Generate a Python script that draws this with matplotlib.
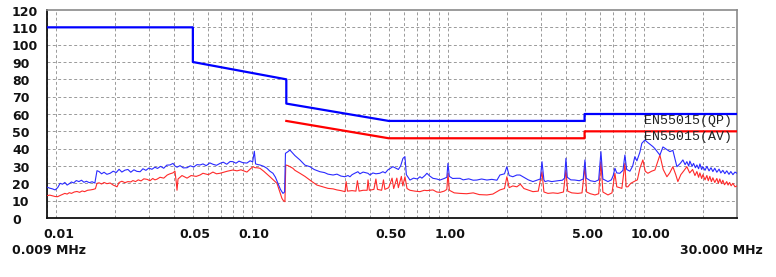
import matplotlib
matplotlib.use("Agg")
import matplotlib.pyplot as plt
from matplotlib import transforms

# ---------------- data ----------------
qp_freq = [0.009, 0.05, 0.05, 0.15, 0.15, 0.5, 5.0, 5.0, 30.0]
qp_db = [110, 110, 90, 80, 66, 56, 56, 60, 60]
av_freq = [0.15, 0.5, 5.0, 5.0, 30.0]
av_db = [56, 46, 46, 50, 50]

peak_freq = [
    0.0090, 0.0093, 0.0096, 0.0099, 0.0102, 0.0105, 0.0108, 0.0111, 0.0114, 0.0117,
    0.0120, 0.0123, 0.0127, 0.0131, 0.0135, 0.0139, 0.0143, 0.0148, 0.0153, 0.0158,
    0.0162, 0.0166, 0.0171, 0.0176, 0.0182, 0.0189, 0.0196, 0.0203, 0.0210, 0.0217,
    0.0225, 0.0233, 0.0241, 0.0250, 0.0259, 0.0269, 0.0278, 0.0288, 0.0298, 0.0309,
    0.0320, 0.0330, 0.0342, 0.0355, 0.0368, 0.0382, 0.0396, 0.0405, 0.0415, 0.0430,
    0.0447, 0.0467, 0.0485, 0.0505, 0.0525, 0.0544, 0.0563, 0.0585, 0.0610, 0.0633,
    0.0660, 0.0688, 0.0715, 0.0745, 0.0775, 0.0801, 0.0830, 0.0860, 0.0900, 0.0944,
    0.0980, 0.1010, 0.1030, 0.1045, 0.1075, 0.1100, 0.1150, 0.1194, 0.1237, 0.1282,
    0.1320, 0.1360, 0.1400, 0.1442, 0.1470, 0.1485, 0.1530, 0.1565, 0.1600, 0.1660,
    0.1760, 0.1867, 0.1980, 0.2080, 0.2228, 0.2350, 0.2448, 0.2600, 0.2720, 0.2850,
    0.2988, 0.3095, 0.3170, 0.3250, 0.3350, 0.3480, 0.3564, 0.3700, 0.3916, 0.4010,
    0.4150, 0.4300, 0.4500, 0.4670, 0.4800, 0.4955, 0.5254, 0.5380, 0.5600, 0.5750,
    0.5910, 0.6050, 0.6150, 0.6416, 0.6700, 0.7000, 0.7216, 0.7387, 0.7650, 0.7835,
    0.8100, 0.8407, 0.8800, 0.9130, 0.9600, 0.9900, 1.0030, 1.0200, 1.0600, 1.1140,
    1.1550, 1.2000, 1.2800, 1.3500, 1.4100, 1.4900, 1.5860, 1.6800, 1.7840, 1.8480,
    1.9500, 2.0050, 2.0600, 2.1500, 2.2550, 2.3380, 2.4500, 2.5800, 2.7240, 2.8500,
    2.9700, 3.0300, 3.1000, 3.1400, 3.2500, 3.4000, 3.6500, 3.8500, 3.9500, 4.0150,
    4.0800, 4.2500, 4.4600, 4.7000, 4.9200, 5.0200, 5.1000, 5.3500, 5.6500, 5.9000,
    6.0600, 6.2000, 6.5800, 6.8500, 7.0000, 7.1400, 7.3000, 7.5700, 7.8500, 8.0300,
    8.2000, 8.5200, 8.8000, 9.0300, 9.2500, 9.5800, 9.8000, 10.160, 10.520, 11.160,
    11.430, 12.120, 12.560, 13.160, 13.630, 14.120, 14.800, 15.400, 15.880, 16.300,
    16.640, 17.000, 17.240, 17.700, 18.000, 18.400, 18.720, 19.100, 19.400, 19.800,
    20.090, 20.600, 21.050, 21.600, 22.100, 22.590, 23.100, 23.670, 24.300, 24.800,
    25.400, 26.000, 26.600, 27.300, 27.900, 28.600, 29.300, 30.000,
]
peak_db = [
    17.8, 17.2, 16.8, 16.2, 17.5, 20.0, 19.5, 20.5, 19.0, 19.8,
    20.8, 20.2, 21.6, 21.0, 21.8, 20.6, 21.2, 20.4, 20.9, 20.2,
    27.3, 26.8, 25.5, 26.4, 25.2, 25.8, 27.0, 26.2, 28.1, 26.5,
    27.6, 28.0, 26.4, 27.8, 26.9, 26.7, 28.4, 27.5, 28.8, 28.1,
    29.3, 28.6, 29.8, 28.7, 30.5, 30.6, 31.5, 30.0, 29.3, 30.2,
    28.9, 29.0, 30.1, 29.4, 30.8, 30.6, 31.2, 30.2, 31.8, 31.0,
    30.4, 31.5, 32.2, 31.0, 32.6, 32.5, 31.6, 32.8, 31.9, 31.7,
    33.0, 32.4, 38.5, 31.2, 30.8, 30.6, 29.8, 28.7, 27.0, 25.8,
    23.5, 20.0, 16.5, 14.2, 15.0, 37.3, 38.3, 39.2, 38.0, 36.0,
    33.5, 30.5, 29.6, 28.0, 26.7, 26.2, 25.3, 24.8, 25.3, 24.2,
    23.8, 24.5, 23.8, 25.0, 25.8, 26.7, 25.5, 26.5, 25.8, 24.8,
    26.0, 25.5, 25.8, 26.7, 26.0, 27.8, 29.6, 29.0, 28.0, 30.0,
    34.4, 35.4, 25.0, 21.9, 23.0, 22.5, 23.8, 23.0, 24.5, 25.8,
    24.2, 22.9, 22.5, 21.9, 22.8, 23.5, 31.5, 24.0, 22.8, 22.9,
    22.9, 22.0, 22.6, 21.8, 21.9, 22.5, 21.9, 22.3, 21.8, 24.8,
    25.5, 29.6, 24.5, 23.8, 24.8, 24.8, 23.5, 22.0, 21.0, 21.8,
    22.5, 32.5, 22.0, 21.0, 21.5, 21.0, 21.5, 21.8, 23.0, 34.4,
    23.5, 22.0, 21.9, 21.5, 22.5, 33.5, 23.0, 21.5, 21.0, 22.0,
    38.3, 22.5, 21.0, 22.0, 24.5, 28.7, 26.0, 25.8, 27.5, 36.3,
    28.0, 27.0, 30.0, 35.4, 33.0, 38.0, 43.1, 45.0, 43.5, 41.2,
    40.0, 36.3, 41.0, 39.5, 38.3, 39.0, 29.6, 31.5, 33.5, 30.8,
    32.5, 30.0, 32.8, 29.8, 31.5, 29.0, 30.6, 28.4, 31.2, 28.0,
    29.6, 27.5, 29.8, 27.2, 29.0, 26.8, 28.7, 26.4, 28.2, 26.0,
    27.5, 25.6, 27.2, 25.2, 26.8, 25.0, 26.5, 25.8,
]

avg_freq = [
    0.0090, 0.0093, 0.0096, 0.0099, 0.0102, 0.0105, 0.0108, 0.0111, 0.0114, 0.0117,
    0.0120, 0.0124, 0.0128, 0.0132, 0.0136, 0.0140, 0.0145, 0.0150, 0.0155, 0.0159,
    0.0162, 0.0166, 0.0171, 0.0176, 0.0182, 0.0189, 0.0196, 0.0205, 0.0210, 0.0217,
    0.0225, 0.0233, 0.0241, 0.0247, 0.0255, 0.0263, 0.0272, 0.0281, 0.0292, 0.0302,
    0.0312, 0.0320, 0.0328, 0.0340, 0.0355, 0.0370, 0.0382, 0.0395, 0.0405, 0.0412,
    0.0415, 0.0420, 0.0440, 0.0467, 0.0490, 0.0520, 0.0544, 0.0563, 0.0600, 0.0633,
    0.0660, 0.0688, 0.0720, 0.0750, 0.0801, 0.0840, 0.0880, 0.0944, 0.0980, 0.1013,
    0.1040, 0.1062, 0.1100, 0.1150, 0.1237, 0.1300, 0.1344, 0.1380, 0.1425, 0.1450,
    0.1476, 0.1490, 0.1530, 0.1620, 0.1660, 0.1760, 0.1867, 0.2028, 0.2150, 0.2300,
    0.2448, 0.2600, 0.2720, 0.2850, 0.2990, 0.3030, 0.3080, 0.3250, 0.3400, 0.3460,
    0.3530, 0.3700, 0.3880, 0.3920, 0.3980, 0.4200, 0.4300, 0.4380, 0.4600, 0.4700,
    0.4780, 0.5000, 0.5200, 0.5300, 0.5500, 0.5600, 0.5800, 0.5900, 0.6050, 0.6200,
    0.6416, 0.6800, 0.7216, 0.7600, 0.7835, 0.8407, 0.8800, 0.9130, 0.9600, 0.9900,
    1.0030, 1.0200, 1.0800, 1.1550, 1.2500, 1.3500, 1.4500, 1.5860, 1.7000, 1.8480,
    1.9500, 2.0050, 2.0600, 2.1500, 2.2550, 2.3500, 2.4500, 2.6000, 2.7240, 2.9000,
    3.0300, 3.1000, 3.2500, 3.4500, 3.6500, 3.9000, 4.0150, 4.1000, 4.3000, 4.6200,
    4.8500, 5.0200, 5.1200, 5.3500, 5.6500, 5.9000, 6.0600, 6.2000, 6.5800, 6.9000,
    7.1400, 7.3000, 7.7500, 8.0300, 8.1500, 8.3200, 8.6000, 9.0300, 9.3000, 9.5800,
    9.9200, 10.200, 10.520, 11.000, 11.430, 12.120, 12.600, 13.160, 13.600, 14.120,
    14.600, 14.970, 15.500, 16.000, 16.640, 17.200, 17.800, 18.300, 18.720, 19.100,
    19.400, 19.800, 20.090, 20.600, 21.050, 21.400, 21.800, 22.200, 22.590, 23.100,
    23.670, 24.100, 24.500, 25.000, 25.400, 25.900, 26.600, 27.000, 27.500, 28.000,
    28.600, 29.300, 30.000,
]
avg_db = [
    12.9, 13.2, 12.8, 12.4, 12.3, 13.0, 13.6, 14.2, 13.8, 14.6,
    14.2, 15.0, 15.3, 14.8, 15.6, 15.2, 16.0, 16.2, 16.5, 16.9,
    20.0, 20.3, 19.6, 20.5, 19.8, 20.2, 19.0, 18.0, 20.5, 21.2,
    20.4, 21.0, 20.8, 21.6, 21.0, 22.0, 21.4, 22.6, 22.3, 21.5,
    22.8, 22.0, 22.4, 23.5, 23.0, 24.8, 25.5, 26.0, 27.0, 20.0,
    16.0, 22.5, 24.5, 23.0, 24.5, 24.0, 24.8, 25.8, 25.0, 26.5,
    25.5, 25.8, 26.4, 27.0, 27.7, 27.2, 27.8, 26.5, 28.2, 29.6,
    29.0, 29.0, 28.7, 27.0, 23.8, 21.5, 20.0, 16.0, 11.3, 10.0,
    9.4, 30.6, 30.2, 28.7, 27.5, 25.8, 24.0, 21.0, 19.0, 18.0,
    17.1, 16.8, 16.2, 15.8, 15.2, 21.0, 15.5, 15.8, 15.5, 21.5,
    15.5, 16.0, 16.0, 22.0, 16.0, 16.5, 22.5, 16.5, 16.0, 22.0,
    16.5, 17.5, 23.0, 17.0, 23.0, 17.5, 24.0, 18.5, 23.8, 17.0,
    16.0, 15.5, 15.2, 16.0, 15.8, 16.2, 15.0, 14.8, 15.5, 16.5,
    25.8, 16.0, 14.5, 14.2, 14.0, 14.5, 13.5, 13.3, 13.8, 16.2,
    17.0, 23.8, 17.5, 18.5, 18.0, 19.5, 17.0, 16.0, 15.2, 15.5,
    26.7, 15.0, 14.2, 14.5, 14.2, 15.0, 27.7, 15.5, 14.5, 14.2,
    14.5, 29.6, 15.0, 14.0, 13.3, 14.0, 32.5, 15.0, 13.3, 14.5,
    25.8, 18.0, 17.1, 31.5, 18.0, 18.0, 20.0, 21.3, 22.0, 28.7,
    33.5, 27.0, 25.8, 27.0, 27.7, 36.3, 28.0, 23.8, 26.0, 29.6,
    25.0, 21.0, 25.0, 27.0, 29.6, 26.0, 28.0, 24.5, 26.8, 23.5,
    26.0, 22.8, 25.0, 22.0, 24.5, 21.5, 24.0, 21.0, 23.2, 20.5,
    22.8, 20.0, 22.5, 19.8, 21.8, 19.2, 21.0, 19.0, 20.5, 18.6,
    20.0, 18.0, 18.5,
]

y_ticks = [0, 10, 20, 30, 40, 50, 60, 70, 80, 90, 100, 110, 120]
x_tick_freqs = [0.01, 0.05, 0.10, 0.50, 1.00, 5.00, 10.00]
x_tick_labels = ["0.01", "0.05", "0.10", "0.50", "1.00", "5.00", "10.00"]
f_start, f_stop = 0.009, 30.0
start_label = "0.009 MHz"
stop_label = "30.000 MHz"
qp_label = "EN55015(QP)"
av_label = "EN55015(AV)"

# ---------------- figure ----------------
W, H = 776, 277
fig = plt.figure(figsize=(W / 100, H / 100), dpi=100)
ax = fig.add_axes([47 / W, 1 - 218 / H, 690 / W, 208 / H])
ax.set_xscale("log")
ax.set_xlim(f_start, f_stop)
ax.set_ylim(0, 120)

# grid
grid_kw = dict(color="#9a9a9a", lw=0.7, ls=(0, (3, 2.5)))
for yv in y_ticks[1:-1]:
    ax.axhline(yv, **grid_kw, zorder=1)
dec = 0.001
while dec < 100:
    for m in range(1, 10):
        v = dec * m
        if f_start < v < f_stop:
            ax.axvline(v, **grid_kw, zorder=1)
    dec *= 10

# traces
ax.plot(avg_freq, avg_db, color="#ff2a2a", lw=0.8, zorder=3)
ax.plot(peak_freq, peak_db, color="#2a2aff", lw=0.8, zorder=3)
# limits
ax.plot(qp_freq, qp_db, color="#0000ff", lw=1.6, zorder=4)
ax.plot(av_freq, av_db, color="#ff0000", lw=1.6, zorder=4)

ax.set_xticks([])
ax.set_yticks([])
ax.minorticks_off()
for s in ["top", "right"]:
    ax.spines[s].set_color("#8a8a8a")
    ax.spines[s].set_linewidth(1.2)
for s in ["left", "bottom"]:
    ax.spines[s].set_color("#111111")
    ax.spines[s].set_linewidth(1.3)

font = dict(family="DejaVu Sans", fontweight="bold", fontsize=9, color="#111111")
ytr = transforms.blended_transform_factory(fig.transFigure, ax.transData)
ytr = transforms.offset_copy(ytr, fig=fig, x=0, y=-2, units="dots")
for yv in y_ticks:
    ax.text(12 / W, yv, str(yv), transform=ytr, ha="left", va="center", **font)

xtr = transforms.offset_copy(ax.get_xaxis_transform(), fig=fig, x=-13, y=-16, units="dots")
for fv, lab in zip(x_tick_freqs, x_tick_labels):
    ax.text(fv, 0, lab, transform=xtr, ha="left", va="center", **font)

fig.text(12 / W, 1 - 251 / H, start_label, ha="left", va="center", **font)
fig.text(763 / W, 1 - 251 / H, stop_label, ha="right", va="center", **font)

mono = dict(family="Liberation Mono", fontsize=9.5, color="#222222")
ax.text(0.993, 56, qp_label, transform=ax.get_yaxis_transform(), ha="right", va="center", zorder=5, **mono)
ax.text(0.993, 46.5, av_label, transform=ax.get_yaxis_transform(), ha="right", va="center", zorder=5, **mono)

fig.savefig("out.png", dpi=100, facecolor="white")
